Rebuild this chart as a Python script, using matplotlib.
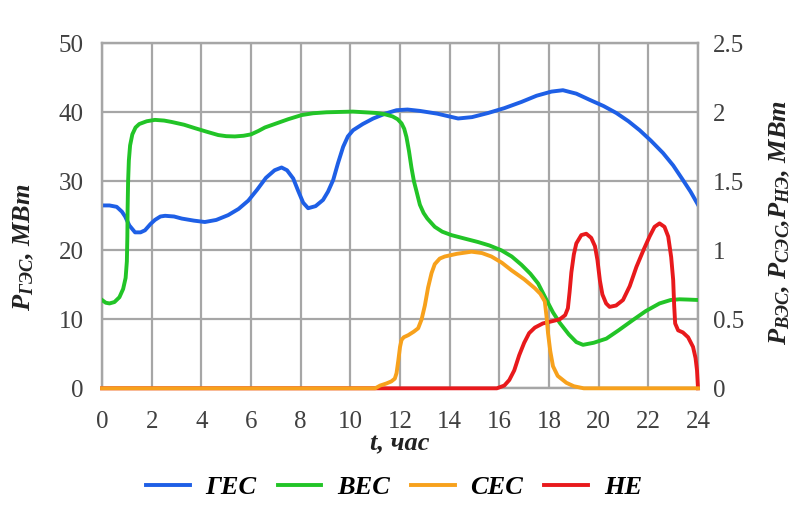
import matplotlib
matplotlib.use("Agg")
import matplotlib.pyplot as plt

# ГЕС (left axis, MW)
t_hes = [0, 0.3, 0.59, 0.8, 0.93, 1.1, 1.33, 1.55, 1.73, 1.95, 2.13, 2.35, 2.54, 2.9, 3.21,
         3.7, 4.14, 4.6, 5.08, 5.5, 5.89, 6.25, 6.6, 6.95, 7.23, 7.45, 7.7, 7.9, 8.1, 8.3,
         8.6, 8.9, 9.1, 9.31, 9.5, 9.71, 9.9, 10.11, 10.5, 10.92, 11.4, 11.86, 12.3, 12.8,
         13.5, 14.34, 14.9, 15.55, 16.2, 16.89, 17.5, 18.1, 18.56, 19.1, 19.64, 20.2, 20.71,
         21.2, 21.65, 22.1, 22.59, 23.0, 23.39, 23.7, 24]
p_hes = [26.5, 26.5, 26.3, 25.6, 24.9, 23.6, 22.6, 22.6, 22.9, 23.8, 24.4, 24.9, 25.0, 24.9, 24.6,
         24.3, 24.1, 24.4, 25.1, 26.0, 27.2, 28.8, 30.5, 31.6, 32.0, 31.6, 30.4, 28.6, 26.9, 26.1,
         26.4, 27.3, 28.5, 30.2, 32.6, 35.0, 36.5, 37.4, 38.3, 39.1, 39.8, 40.3, 40.4, 40.2,
         39.8, 39.1, 39.3, 39.9, 40.6, 41.5, 42.4, 43.0, 43.2, 42.7, 41.8, 40.9, 39.9,
         38.7, 37.4, 35.9, 34.1, 32.3, 30.2, 28.5, 26.6]

# ВЕС (right axis, MW)
t_ves = [0, 0.15, 0.3, 0.5, 0.7, 0.85, 0.95, 1.0, 1.02, 1.03, 1.05, 1.08, 1.13, 1.22, 1.35,
         1.5, 1.8, 2.13, 2.5, 2.8, 3.3, 3.74, 4.2, 4.68, 5.0, 5.35, 5.7, 6.0, 6.3, 6.56,
         7.03, 7.5, 8.04, 8.5, 9.04, 10.1, 11.05, 11.4, 11.7, 11.9, 12.06, 12.17, 12.26,
         12.36, 12.46, 12.56, 12.66, 12.8, 12.95, 13.1, 13.4, 13.7, 14.07, 14.6, 15.14,
         15.6, 16.08, 16.5, 16.89, 17.25, 17.56, 17.9, 18.16, 18.43, 18.8, 19.1, 19.37,
         19.8, 20.31, 20.8, 21.38, 21.9, 22.45, 22.9, 23.26, 23.6, 24]
p_ves = [0.64, 0.62, 0.615, 0.625, 0.66, 0.72, 0.80, 0.92, 1.1, 1.3, 1.5, 1.65, 1.76, 1.84, 1.89,
         1.915, 1.935, 1.945, 1.94, 1.93, 1.91, 1.885, 1.86, 1.835, 1.827, 1.825, 1.83, 1.84, 1.865, 1.89,
         1.92, 1.95, 1.98, 1.993, 2.0, 2.005, 1.995, 1.985, 1.97, 1.95, 1.92, 1.88, 1.82,
         1.72, 1.6, 1.50, 1.43, 1.33, 1.27, 1.23, 1.17, 1.135, 1.11, 1.085, 1.06,
         1.035, 1.0, 0.955, 0.895, 0.83, 0.76, 0.64, 0.55, 0.475, 0.39, 0.335, 0.315,
         0.33, 0.36, 0.42, 0.495, 0.56, 0.615, 0.64, 0.645, 0.643, 0.64]

# СЕС (right axis, MW)
t_ses = [0, 11.0, 11.2, 11.45, 11.65, 11.79, 11.86, 11.93, 12.0, 12.06, 12.15, 12.33, 12.55,
         12.73, 12.87, 13.0, 13.13, 13.27, 13.4, 13.6, 13.8, 14.3, 14.88, 15.3, 15.68, 16.1,
         16.49, 17.0, 17.43, 17.65, 17.83, 17.9, 17.96, 18.05, 18.16, 18.35, 18.7, 19.0,
         19.4, 24]
p_ses = [0, 0, 0.02, 0.035, 0.05, 0.07, 0.11, 0.2, 0.3, 0.35, 0.37, 0.385, 0.41,
         0.435, 0.5, 0.6, 0.73, 0.835, 0.9, 0.94, 0.955, 0.975, 0.99, 0.98, 0.955, 0.91,
         0.855, 0.79, 0.725, 0.685, 0.63, 0.52, 0.40, 0.27, 0.16, 0.09, 0.04, 0.015,
         0, 0]

# НЕ (right axis, MW)
t_ne = [0, 15.9, 16.2, 16.4, 16.6, 16.8, 17.0, 17.2, 17.43, 17.75, 18.1, 18.43, 18.65, 18.76,
        18.83, 18.9, 19.0, 19.1, 19.3, 19.5, 19.7, 19.85, 19.95, 20.05, 20.15, 20.3, 20.44,
        20.7, 20.98, 21.25, 21.52, 21.8, 22.05, 22.25, 22.45, 22.65, 22.8, 22.92, 23.0,
        23.04, 23.08, 23.2, 23.39, 23.6, 23.8, 23.9, 23.96, 24]
p_ne = [0, 0, 0.02, 0.06, 0.13, 0.24, 0.33, 0.4, 0.44, 0.47, 0.485, 0.5, 0.53, 0.58,
        0.7, 0.84, 0.97, 1.05, 1.11, 1.12, 1.09, 1.03, 0.93, 0.78, 0.68, 0.615, 0.59,
        0.6, 0.64, 0.74, 0.88, 1.0, 1.1, 1.17, 1.195, 1.17, 1.1, 0.95, 0.785,
        0.6, 0.47, 0.42, 0.405, 0.37, 0.3, 0.22, 0.13, 0]

x_ticks = list(range(0, 25, 2))
left_ticks = [0, 10, 20, 30, 40, 50]
right_ticks = [0, 0.5, 1, 1.5, 2, 2.5]
names = ["ГЕС", "ВЕС", "СЕС", "НЕ"]

plt.rcParams["font.family"] = "Liberation Serif"
plt.rcParams["mathtext.fontset"] = "custom"
plt.rcParams["mathtext.it"] = "Liberation Serif:italic:bold"
plt.rcParams["mathtext.rm"] = "Liberation Serif:bold"
plt.rcParams["mathtext.bf"] = "Liberation Serif:bold"

grid_c = "#a6a6a6"
c_blue, c_green, c_orange, c_red = "#1e5fe6", "#22c427", "#f7a11c", "#e8191c"
txt_c = "#404040"

fig = plt.figure(figsize=(7.99, 5.08), dpi=100)
ax = fig.add_axes([0.1277, 0.2356, 0.7459, 0.6792])
ax2 = ax.twinx()

ax.set_xlim(0, 24)
ax.set_ylim(0, 50)
ax2.set_ylim(0, 2.5)
ax.set_xticks(x_ticks)
ax.set_yticks(left_ticks)
ax2.set_yticks(right_ticks)
ax2.set_yticklabels(["%g" % v for v in right_ticks])
ax.grid(True, color=grid_c, linewidth=1.6)
ax.set_axisbelow(True)
for a in (ax, ax2):
    for s in a.spines.values():
        s.set_color(grid_c)
        s.set_linewidth(1.6)
ax.tick_params(axis="both", length=0, labelsize=18, colors=txt_c)
ax.tick_params(axis="y", pad=13)
ax.tick_params(axis="x", pad=16)
ax2.tick_params(axis="y", length=0, labelsize=18, colors=txt_c, pad=11)

lw = 2.8
l1, = ax.plot(t_hes, p_hes, color=c_blue, lw=lw, zorder=3)
l2, = ax2.plot(t_ves, p_ves, color=c_green, lw=lw, zorder=3)
l4, = ax2.plot(t_ne, p_ne, color=c_red, lw=lw, clip_on=False, zorder=3)
l3, = ax2.plot(t_ses, p_ses, color=c_orange, lw=lw, clip_on=False, zorder=3)

ax.set_xlabel("t, час", fontsize=19, fontweight="bold", fontstyle="italic", labelpad=0,
              color="#222222")
ax.set_ylabel(r"$P_{ГЭС}$, MBm", fontsize=19, fontweight="bold", fontstyle="italic",
              va="center", color="#222222")
ax.yaxis.set_label_coords(-0.131, 0.41)
ax2.set_ylabel(r"$P_{ВЭС}$, $P_{СЭС}$,$P_{НЭ}$, MBm", fontsize=19, fontweight="bold",
               fontstyle="italic", rotation=90, va="center", color="#222222")
ax2.yaxis.set_label_coords(1.138, 0.48)

fig.legend([l1, l2, l3, l4], names, loc="center",
           bbox_to_anchor=(0.493, 1 - 487 / 508), ncol=4, frameon=False,
           prop={"size": 19, "weight": "bold", "style": "italic"},
           handlelength=1.65, columnspacing=0.8, handletextpad=0.6)

fig.savefig("out.png", dpi=100)
